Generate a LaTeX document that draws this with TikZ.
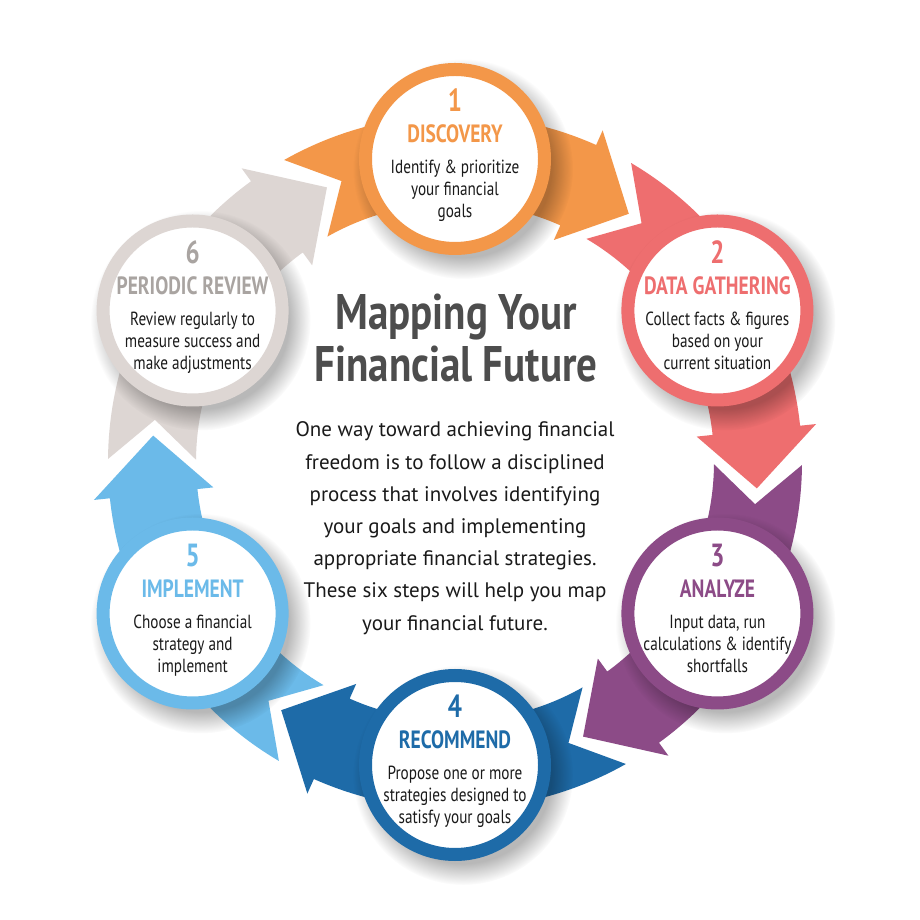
\documentclass[tikz,border=0pt]{standalone}
\usepackage{fontspec}
\setmainfont{PT Sans}
\newfontfamily\circbody[FakeStretch=0.8]{PT Sans}
\newfontfamily\circhead[FakeStretch=0.78]{PT Sans}
\newfontfamily\titlefont[FakeStretch=0.82]{PT Sans}
\newfontfamily\parafont{PT Sans}
\usetikzlibrary{fadings}
\definecolor{cOrange}{HTML}{F39749}
\definecolor{cPink}{HTML}{EE6E6F}
\definecolor{cPurple}{HTML}{8C4B87}
\definecolor{cDblue}{HTML}{1E6BA8}
\definecolor{cLblue}{HTML}{6BBAE9}
\definecolor{cGrey}{HTML}{DDD6D3}
\definecolor{cGreyText}{HTML}{A9A4A1}
\definecolor{cTitle}{HTML}{4D4D4D}
\definecolor{cBody}{HTML}{1A1A1A}
\begin{document}
\begin{tikzpicture}[x=1pt,y=1pt,
  stepcircle/.style={circle, draw=#1, fill=white, line width=13pt, minimum size=179pt, inner sep=0pt},
  stepnum/.style={font=\circhead\bfseries\fontsize{32}{32}\selectfont, text=#1, inner sep=0pt, anchor=base},
  stephead/.style={font=\circhead\bfseries\fontsize{25}{25}\selectfont, text=#1, inner sep=0pt, anchor=base},
  stepbody/.style={font=\circbody\fontsize{19}{22}\selectfont, text=cBody, inner sep=0pt, anchor=base},
  titlestyle/.style={font=\titlefont\bfseries\fontsize{50}{52}\selectfont, text=cTitle, inner sep=0pt, anchor=base},
  parastyle/.style={font=\parafont\fontsize{21}{32}\selectfont, text=cBody, inner sep=0pt, anchor=base},
  shadowstyle/.style={black, opacity=0.28, path fading=circle with fuzzy edge 20 percent},
]
\useasboundingbox (0,0) rectangle (920,920);
\fill[white] (0,0) rectangle (920,920);
\coordinate (C) at (455,458);
% arrow bands
\foreach \a/\col in {90/cOrange,30/cPink,-30/cPurple,-90/cDblue,-150/cLblue,150/cGrey}{
  \pgfmathsetmacro\ta{\a+29.5}
  \pgfmathsetmacro\na{\a+22}
  \pgfmathsetmacro\ba{\a-24}
  \pgfmathsetmacro\pa{\a-35}
  \fill[\col,shift={(455,458)}] (\ta:347) arc[start angle=\ta, end angle=\ba, radius=347pt]
    -- (\ba:363) -- (\pa:303) -- (\ba:243) -- (\ba:259)
    arc[start angle=\ba, end angle=\ta, radius=259pt] -- (\na:303) -- cycle;
}
% circle positions
\coordinate (p1) at (455,761);
\coordinate (p2) at (717.4,609.5);
\coordinate (p3) at (717.4,306.5);
\coordinate (p4) at (455,155);
\coordinate (p5) at (192.6,306.5);
\coordinate (p6) at (192.6,609.5);
% shadows
\foreach \i in {1,...,6}{
  \fill[shadowstyle] ([shift={(8,-10)}]p\i) circle (110);
}
% circles
\node[stepcircle=cOrange] (c1) at (p1) {};
\node[stepcircle=cPink] (c2) at (p2) {};
\node[stepcircle=cPurple] (c3) at (p3) {};
\node[stepcircle=cDblue] (c4) at (p4) {};
\node[stepcircle=cLblue] (c5) at (p5) {};
\node[stepcircle=cGrey] (c6) at (p6) {};
% texts
\foreach \c/\col/\n/\h/\la/\lb/\lc in {
  c1/cOrange/1/DISCOVERY/{Identify \& prioritize}/{your financial}/{goals},
  c2/cPink/2/DATA GATHERING/{Collect facts \& figures}/{based on your}/{current situation},
  c3/cPurple/3/ANALYZE/{Input data, run}/{calculations \& identify}/{shortfalls},
  c4/cDblue/4/RECOMMEND/{Propose one or more}/{strategies designed to}/{satisfy your goals},
  c5/cLblue/5/IMPLEMENT/{Choose a financial}/{strategy and}/{implement},
  c6/cGreyText/6/PERIODIC REVIEW/{Review regularly to}/{measure success and}/{make adjustments}}{
  \node[stepnum=\col] (\c num) at ([yshift=47pt]\c.center) {\n};
  \node[stephead=\col] (\c head) at ([yshift=16pt]\c.center) {\h};
  \node[stepbody] (\c la) at ([yshift=-15pt]\c.center) {\la};
  \node[stepbody] (\c lb) at ([yshift=-37pt]\c.center) {\lb};
  \node[stepbody] (\c lc) at ([yshift=-59pt]\c.center) {\lc};
}
% title
\node[titlestyle] (title1) at (456,590) {Mapping Your};
\node[titlestyle] (title2) at (456,538) {Financial Future};
% paragraph
\foreach \t [count=\i] in {
  One way toward achieving financial,
  freedom is to follow a disciplined,
  process that involves identifying,
  your goals and implementing,
  appropriate financial strategies.,
  These six steps will help you map,
  your financial future.}{
  \node[parastyle] (para\i) at (455,{483-32.2*(\i-1)}) {\t};
}
\end{tikzpicture}
\end{document}
